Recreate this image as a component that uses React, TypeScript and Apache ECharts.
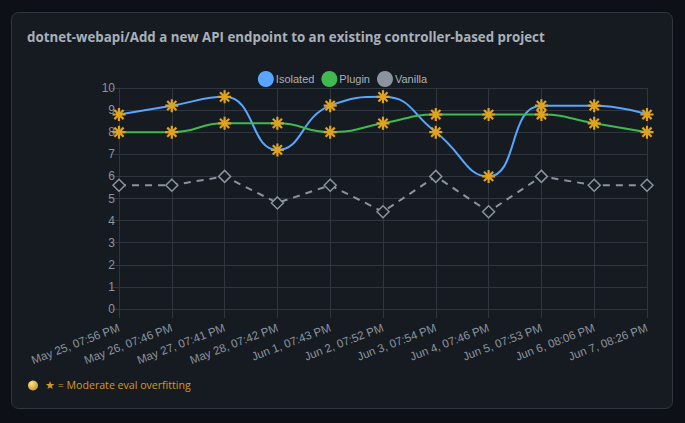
import React, { useEffect, useRef } from "react";
import * as echarts from "echarts";

// Run timestamps on the category axis
const runLabels = [
  "May 25, 07:56 PM",
  "May 26, 07:46 PM",
  "May 27, 07:41 PM",
  "May 28, 07:42 PM",
  "Jun 1, 07:43 PM",
  "Jun 2, 07:52 PM",
  "Jun 3, 07:54 PM",
  "Jun 4, 07:46 PM",
  "Jun 5, 07:53 PM",
  "Jun 6, 08:06 PM",
  "Jun 7, 08:26 PM",
];

// Scores per configuration
const isolatedScores = [8.8, 9.2, 9.6, 7.2, 9.2, 9.6, 8.0, 6.0, 9.2, 9.2, 8.8];
const pluginScores = [8.0, 8.0, 8.4, 8.4, 8.0, 8.4, 8.8, 8.8, 8.8, 8.4, 8.0];
const vanillaScores = [5.6, 5.6, 6.0, 4.8, 5.6, 4.4, 6.0, 4.4, 6.0, 5.6, 5.6];

const chartTitle = "dotnet-webapi/Add a new API endpoint to an existing controller-based project";
const footnote = "★ = Moderate eval overfitting";

const GOLD = "#e0a320";
const GRID = "#30363d";
const TICK = "#8b949e";
const BLUE = "#58a6ff";
const GREEN = "#3fb950";
const ASTERISK = "path://M0,-10L0,10M-10,0L10,0M-7.07,-7.07L7.07,7.07M7.07,-7.07L-7.07,7.07";

export default function App() {
  const ref = useRef<HTMLDivElement>(null);

  useEffect(() => {
    if (!ref.current) return;
    const chart = echarts.init(ref.current, null, { renderer: "svg" });

    const starSeries = (name: string, data: number[], color: string) => ({
      name,
      type: "line",
      data,
      smooth: 0.5,
      symbol: ASTERISK,
      symbolSize: 13,
      showAllSymbol: true,
      lineStyle: { color, width: 2 },
      itemStyle: { color: GOLD, borderColor: GOLD, borderWidth: 2.2 },
      emphasis: { disabled: true },
      z: 3,
    });

    const legendItem = (name: string, color: string) => ({
      name,
      itemStyle: { color, borderWidth: 0 },
    });

    chart.setOption({
      animation: false,
      backgroundColor: "#0d1117",
      textStyle: { fontFamily: "Liberation Sans, Arial, sans-serif" },
      graphic: [
        {
          type: "rect",
          shape: { x: 11.5, y: 12.5, width: 661, height: 396, r: 7 },
          style: { fill: "#161b22", stroke: GRID, lineWidth: 1 },
          z: -10,
        },
        {
          type: "text",
          left: 27,
          top: 30,
          style: {
            text: chartTitle,
            fill: "#a8b0b9",
            font: "bold 13.3px 'Open Sans', 'Noto Sans', sans-serif",
          },
        },
        {
          type: "circle",
          shape: { cx: 33, cy: 385.5, r: 5 },
          style: {
            fill: new echarts.graphic.RadialGradient(0.35, 0.3, 0.8, [
              { offset: 0, color: "#fbe38a" },
              { offset: 1, color: "#c9931a" },
            ]),
          },
        },
        {
          type: "text",
          left: 45,
          top: 379,
          style: {
            text: footnote,
            fill: "#d29922",
            font: "10.6px 'Open Sans', 'Noto Sans', sans-serif",
          },
        },
      ],
      legend: {
        top: 66,
        left: "center",
        icon: "circle",
        itemWidth: 16,
        itemHeight: 16,
        itemGap: 7,
        textStyle: { color: "#a9b1ba", fontSize: 11, padding: [0, 0, 0, -3] },
        data: [
          legendItem("Isolated", BLUE),
          legendItem("Plugin", GREEN),
          legendItem("Vanilla", TICK),
        ],
      },
      grid: { left: 119, right: 38, top: 88, bottom: 114 },
      xAxis: {
        type: "category",
        data: runLabels,
        boundaryGap: false,
        axisLine: { show: true, lineStyle: { color: GRID } },
        axisTick: { show: true, length: 9, lineStyle: { color: GRID } },
        splitLine: { show: true, lineStyle: { color: GRID } },
        axisLabel: { color: TICK, fontSize: 11.5, rotate: 21, margin: 18, interval: 0 },
      },
      yAxis: {
        type: "value",
        min: 0,
        max: 10,
        interval: 1,
        axisLine: { show: true, lineStyle: { color: GRID } },
        axisTick: { show: true, length: 8, lineStyle: { color: GRID } },
        splitLine: { show: true, lineStyle: { color: GRID } },
        axisLabel: { color: TICK, fontSize: 12, margin: 4 },
      },
      series: [
        starSeries("Isolated", isolatedScores, BLUE),
        starSeries("Plugin", pluginScores, GREEN),
        {
          name: "Vanilla",
          type: "line",
          data: vanillaScores,
          symbol: "diamond",
          symbolSize: 12,
          showAllSymbol: true,
          lineStyle: { color: TICK, width: 2, type: [7, 6] },
          itemStyle: { color: "#161b22", borderColor: TICK, borderWidth: 1.5 },
          emphasis: { disabled: true },
          z: 2,
        },
      ],
    });

    return () => chart.dispose();
  }, []);

  return (
    <div style={{ position: "fixed", inset: 0, background: "#0d1117" }}>
      <div ref={ref} style={{ width: 685, height: 423 }} />
    </div>
  );
}
